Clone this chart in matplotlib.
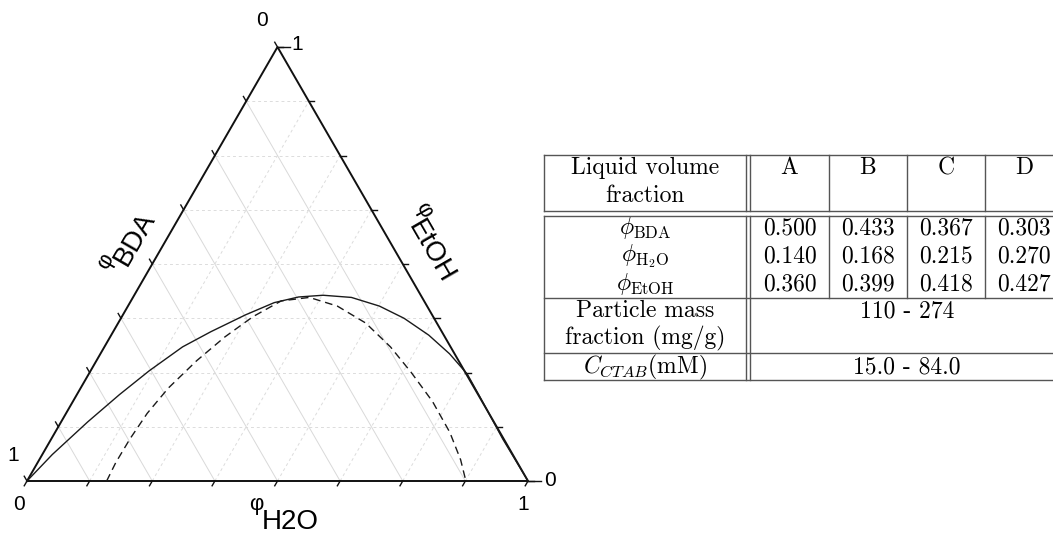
import numpy as np
import matplotlib.pyplot as plt

H = np.sqrt(3) / 2  # height of the unit ternary triangle

# phase boundaries, as (H2O, EtOH) volume fractions
solid_h2o = [0.0, 0.020, 0.053, 0.085, 0.117, 0.156, 0.195, 0.245, 0.288, 0.330, 0.377,
             0.436, 0.502, 0.565, 0.634, 0.697, 0.756, 0.806, 0.901, 1.0]
solid_etoh = [0.0, 0.061, 0.136, 0.199, 0.254, 0.309, 0.344, 0.383, 0.411, 0.424, 0.428,
              0.423, 0.403, 0.375, 0.336, 0.293, 0.246, 0.195, 0.097, 0.0]
dash_h2o = [0.159, 0.156, 0.157, 0.162, 0.175, 0.200, 0.229, 0.262, 0.300, 0.352, 0.418,
            0.494, 0.571, 0.642, 0.718, 0.788, 0.841, 0.876]
dash_etoh = [0.0, 0.042, 0.097, 0.156, 0.214, 0.277, 0.332, 0.379, 0.415, 0.423, 0.403,
             0.364, 0.309, 0.250, 0.183, 0.112, 0.049, 0.0]

# table contents
samples = ["A", "B", "C", "D"]
phi_bda = [0.500, 0.433, 0.367, 0.303]
phi_h2o = [0.140, 0.168, 0.215, 0.270]
phi_etoh = [0.360, 0.399, 0.418, 0.427]
mass_range = "110 - 274"
ctab_range = "15.0 - 84.0"


def tern(h2o, etoh):
    h2o = np.asarray(h2o, float)
    etoh = np.asarray(etoh, float)
    return h2o + etoh / 2, etoh * H


W, HT = 1053, 535
fig = plt.figure(figsize=(W / 100, HT / 100), dpi=100)

# full-figure pixel axes for the table and the axis titles (y grows downwards)
pa = fig.add_axes([0, 0, 1, 1])
pa.set_xlim(0, W)
pa.set_ylim(HT, 0)
pa.axis("off")

# ternary axes: (0,0) at pixel (27,481), (1,0) at (528,481)
ax = fig.add_axes([27 / W, (HT - 481) / HT, 501 / W, 434 / HT])
ax.set_xlim(0, 1)
ax.set_ylim(0, H)
ax.axis("off")
ax.patch.set_alpha(0)

fr = np.arange(1, 8) / 8
grid_kw = dict(lw=0.7, zorder=1)
for f in fr:
    # constant EtOH (horizontal, dashed)
    x, y = tern([0, 1 - f], [f, f])
    ax.plot(x, y, ls=(0, (3, 3)), color="#dcdcdc", **grid_kw)
    # constant H2O (parallel to left edge, dashed)
    x, y = tern([f, f], [0, 1 - f])
    ax.plot(x, y, ls=(0, (3, 3)), color="#dcdcdc", **grid_kw)
    # constant BDA (parallel to right edge, solid)
    x, y = tern([1 - f, 0], [0, 1 - f])
    ax.plot(x, y, ls="-", color="#d9d9d9", **grid_kw)

# triangle frame
x, y = tern([0, 1, 0, 0], [0, 0, 1, 0])
ax.plot(x, y, color="#111111", lw=1.4, zorder=3, clip_on=False, solid_joinstyle="miter")

# ticks
L = 0.011
ticks = np.arange(0, 9) / 8
for f in ticks:
    x0, y0 = tern(f, 0)
    ax.plot([x0, x0 - 0.5 * L], [y0, y0 - H * L], color="#111111", lw=1.0, clip_on=False)
    x0, y0 = tern(0, 1 - f)
    ax.plot([x0, x0 - 0.5 * L], [y0, y0 + H * L], color="#111111", lw=1.0, clip_on=False)
    x0, y0 = tern(1 - f, f)
    ax.plot([x0, x0 + L], [y0, y0], color="#111111", lw=1.0, clip_on=False)
# longer end ticks next to the "1"/"0" labels at the top and right corners
ax.plot([0.5, 0.5 + 0.025], [H, H], color="#111111", lw=1.0, clip_on=False)
ax.plot([1.0, 1.025], [0, 0], color="#111111", lw=1.0, clip_on=False)

# curves
x, y = tern(solid_h2o, solid_etoh)
ax.plot(x, y, color="#1a1a1a", lw=1.0, zorder=4, clip_on=False)
x, y = tern(dash_h2o, dash_etoh)
ax.plot(x, y, color="#1a1a1a", lw=1.0, ls=(0, (5.5, 3.5)), zorder=4)

# end labels
num_kw = dict(fontsize=15, family="Liberation Sans", ha="center", va="center")
ax.text(0.470, H + 0.052, "0", **num_kw)
ax.text(0.540, H + 0.004, "1", **num_kw)
ax.text(-0.028, 0.050, "1", **num_kw)
ax.text(-0.016, -0.046, "0", **num_kw)
ax.text(1.044, 0.0, "0", **num_kw)
ax.text(0.990, -0.046, "1", **num_kw)


# axis titles: small raised phi followed by the component name
def title(x, y, ang, name, raise_px=16):
    a = np.radians(ang)
    u = np.array([np.cos(a), -np.sin(a)])
    n = np.array([np.sin(a), np.cos(a)])
    p = np.array([x, y])
    pa.text(*p, name, rotation=ang, rotation_mode="anchor", ha="left", va="baseline",
            fontsize=20, family="Liberation Sans")
    q = p - n * raise_px + u * 1
    pa.text(*q, "φ", rotation=ang, rotation_mode="anchor", ha="right", va="baseline",
            fontsize=16, family="Liberation Sans")


title(127, 267, 60, "BDA")
title(408, 226, -60, "EtOH")
title(262, 529, 0, "H2O", raise_px=19)

# table
lc = "#555555"
tl = 544
x_dbl = (746, 750)
seps = [829, 907, 985]
y_top, y_h, y_b, y_phi, y_mass, y_end = 155, 210.5, 215.5, 297.5, 353, 380
tlw = 1.0
for yy in (y_top, y_h, y_b, y_phi, y_mass, y_end):
    pa.plot([tl, W], [yy, yy], color=lc, lw=tlw)
for xx in (tl,) + x_dbl:
    pa.plot([xx, xx], [y_top, y_h], color=lc, lw=tlw)
    pa.plot([xx, xx], [y_b, y_end], color=lc, lw=tlw)
for xx in seps:
    pa.plot([xx, xx], [y_top, y_h], color=lc, lw=tlw)
    pa.plot([xx, xx], [y_b, y_phi], color=lc, lw=tlw)

tk = dict(fontsize=17, family="cmr10", math_fontfamily="cm", ha="center", va="center")
c0 = (tl + x_dbl[0]) / 2
col_x = [(x_dbl[1] + seps[0]) / 2, (seps[0] + seps[1]) / 2, (seps[1] + seps[2]) / 2, (seps[2] + 1063) / 2]
pa.text(c0, 168, "Liquid volume", **tk)
pa.text(c0, 196, "fraction", **tk)
for cx, s in zip(col_x, samples):
    pa.text(cx, 168, s, **tk)

row_y = [228, 256, 284]
row_lab = [r"$\phi_{\rm BDA}$", r"$\phi_{\rm H_2O}$", r"$\phi_{\rm EtOH}$"]
for ry, lab, vals in zip(row_y, row_lab, [phi_bda, phi_h2o, phi_etoh]):
    pa.text(c0, ry, lab, **tk)
    for cx, v in zip(col_x, vals):
        pa.text(cx, ry, f"{v:.3f}", **tk)

merged_x = (x_dbl[1] + 1064) / 2
pa.text(c0, 311, "Particle mass", **tk)
pa.text(c0, 338, "fraction (mg/g)", **tk)
pa.text(merged_x, 311, mass_range, **tk)
pa.text(c0, 367, r"$C_{CTAB}$(mM)", **tk)
pa.text(merged_x, 367, ctab_range, **tk)

fig.savefig("out.png", dpi=100)
